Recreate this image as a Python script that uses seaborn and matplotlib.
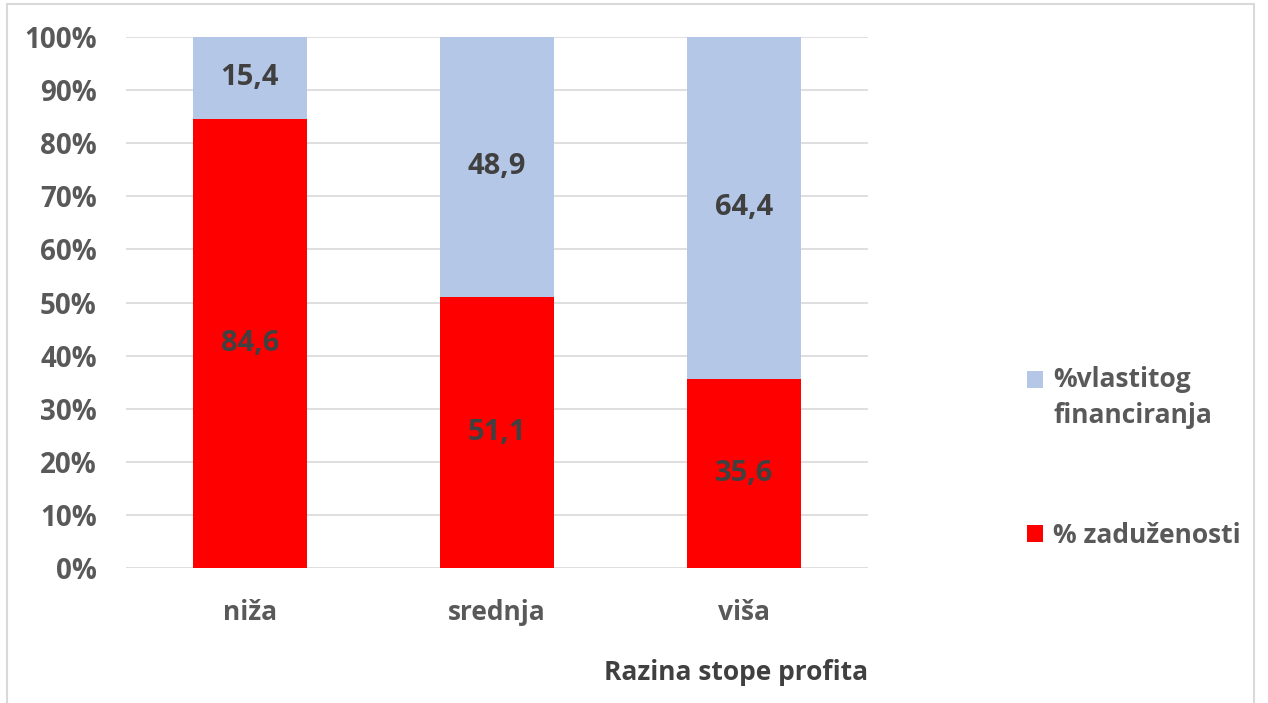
import pandas as pd
import matplotlib.pyplot as plt
import seaborn as sns
from matplotlib.patches import Rectangle, Patch
from matplotlib.legend_handler import HandlerPatch
from matplotlib.ticker import PercentFormatter

# data
categories = ['niža', 'srednja', 'viša']
zaduzenost = [84.6, 51.1, 35.6]
vlastito = [15.4, 48.9, 64.4]
yticks = [0, 10, 20, 30, 40, 50, 60, 70, 80, 90, 100]

RED = '#FF0000'
BLUE = '#B4C7E7'
GRID = '#D9D9D9'
TXT = '#595959'
LBL = '#404040'

sns.set_theme(style='white')
plt.rcParams['font.family'] = ['Open Sans', 'DejaVu Sans']

df = pd.DataFrame({'razina': categories, 'zad': zaduzenost, 'vla': vlastito})
df['total'] = df['zad'] + df['vla']

W, H = 1268, 703
fig = plt.figure(figsize=(W / 100, H / 100), dpi=100)
ax = fig.add_axes([126 / W, (H - 568) / H, (868 - 126) / W, (568 - 37) / H])

# stacked: full bar in blue, red part drawn over it
sns.barplot(data=df, x='razina', y='total', color=BLUE, width=0.46,
            saturation=1, linewidth=0, ax=ax, zorder=2)
sns.barplot(data=df, x='razina', y='zad', color=RED, width=0.46,
            saturation=1, linewidth=0, ax=ax, zorder=3)

ax.set_xlim(-0.5, 2.5)
ax.set_ylim(0, 100)
ax.set_yticks(yticks)
ax.yaxis.set_major_formatter(PercentFormatter(decimals=0))
ax.grid(axis='y', color=GRID, linewidth=1.2, zorder=0)
ax.set_axisbelow(True)
sns.despine(ax=ax, left=True, bottom=True)
ax.tick_params(axis='y', length=0, pad=21, labelsize=20, labelcolor=TXT)
ax.tick_params(axis='x', length=0, pad=22, labelsize=19, labelcolor=TXT)
for t in ax.get_yticklabels() + ax.get_xticklabels():
    t.set_fontweight('bold')
ax.set_ylabel('')
ax.set_xlabel('Razina stope profita', fontsize=19, fontweight='bold',
              color=LBL, loc='right', labelpad=24)

# data labels in the middle of each segment
for i, (r, b) in enumerate(zip(zaduzenost, vlastito)):
    ax.text(i, r / 2, f'{r:.1f}'.replace('.', ','), ha='center', va='center',
            fontsize=21, fontweight='bold', color=LBL, zorder=5)
    ax.text(i, r + b / 2, f'{b:.1f}'.replace('.', ','), ha='center', va='center',
            fontsize=21, fontweight='bold', color=LBL, zorder=5)


class TopSquare(HandlerPatch):
    # put the square next to the first line of a two-line label
    def __init__(self, shift, **kw):
        super().__init__(**kw)
        self.shift = shift

    def create_artists(self, legend, orig_handle, xdescent, ydescent,
                       width, height, fontsize, trans):
        p = Rectangle((-xdescent, -ydescent + self.shift), width, height,
                      facecolor=orig_handle.get_facecolor(), linewidth=0,
                      transform=trans)
        return [p]


blue_h = Patch(facecolor=BLUE)
red_h = Patch(facecolor=RED)
handles = [blue_h, red_h]
labels = ['%vlastitog\nfinanciranja', '% zaduženosti']
leg = fig.legend(handles, labels, loc='upper left',
                 bbox_to_anchor=(1003 / W, 1 - 342 / H), frameon=False,
                 fontsize=19, labelspacing=3.5, handlelength=0.6,
                 handleheight=0.6, handletextpad=0.4, labelcolor=TXT,
                 handler_map={blue_h: TopSquare(14), red_h: TopSquare(0)})
for t in leg.get_texts():
    t.set_fontweight('bold')
    t.set_linespacing(1.45)

# light frame around the chart area
fig.patches.append(Rectangle((7 / W, -0.01), (1254 - 7) / W, 1 - 4 / H + 0.01,
                             transform=fig.transFigure, fill=False,
                             edgecolor=GRID, linewidth=1.5))

fig.savefig('out.png', dpi=100)
